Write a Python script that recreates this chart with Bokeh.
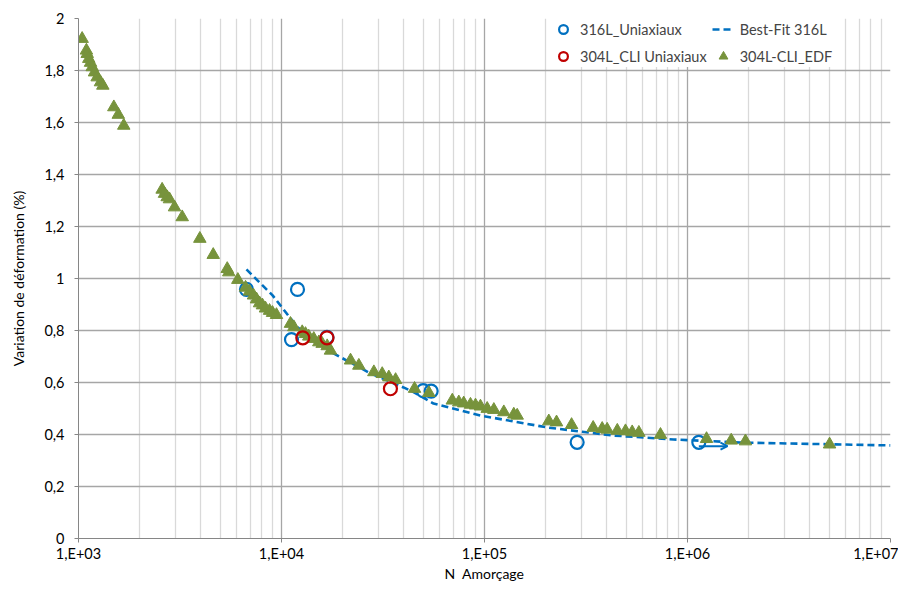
import numpy as np
from bokeh.plotting import figure
from bokeh.models import (Range1d, FixedTicker, Legend, LegendItem, Arrow, OpenHead,
                          ColumnDataSource, CustomJSTickFormatter)
from bokeh.embed import file_html
from bokeh.resources import INLINE

# ---------------- data ----------------
edf_n = [1042, 1094, 1104, 1124, 1146, 1168, 1199, 1236, 1283, 1318,
         1493, 1570, 1671,
         2582, 2653, 2735, 2806, 2972, 3243, 3960, 4610, 5404, 5500, 6094,
         6651, 6955, 7278, 7530, 7796, 8054, 8337, 8730, 9030, 9445,
         11070, 11500, 12650, 13130, 13620, 14420, 15270, 15860, 16790, 17430,
         21880, 24040, 28510, 31340, 33780, 36480, 45220, 53200,
         69400, 74700, 79000, 85300, 90300, 95500, 103100, 111200, 124500, 139400, 144900,
         207400, 226400, 268500, 343000, 380000, 402000, 451000, 495000, 534000, 576000,
         736000, 1241000, 1642000, 1930000, 5010000]
edf_eps = [1.922, 1.877, 1.864, 1.845, 1.830, 1.813, 1.793, 1.774, 1.755, 1.742,
           1.659, 1.630, 1.588,
           1.342, 1.326, 1.313, 1.305, 1.274, 1.236, 1.153, 1.091, 1.037, 1.024, 0.995,
           0.965, 0.950, 0.935, 0.920, 0.905, 0.897, 0.885, 0.876, 0.868, 0.860,
           0.826, 0.813, 0.794, 0.787, 0.777, 0.768, 0.755, 0.749, 0.740, 0.723,
           0.685, 0.665, 0.640, 0.633, 0.620, 0.610, 0.576, 0.560,
           0.531, 0.524, 0.520, 0.515, 0.512, 0.508, 0.499, 0.495, 0.486, 0.477, 0.473,
           0.451, 0.447, 0.437, 0.426, 0.422, 0.419, 0.415, 0.413, 0.409, 0.407,
           0.399, 0.383, 0.377, 0.374, 0.362]

u316_n = [6720, 11990, 11200, 16750, 49900, 54600, 286000, 1137000]
u316_eps = [0.958, 0.958, 0.765, 0.774, 0.569, 0.567, 0.370, 0.370]

u304_n = [12730, 16750, 34400]
u304_eps = [0.772, 0.772, 0.576]

fit_n = [6720, 9040, 12000, 18040, 27430, 39900, 44700, 56100, 95500,
         204000, 432000, 853000, 1820000, 10000000]
fit_eps = [1.035, 0.935, 0.812, 0.712, 0.635, 0.581, 0.563, 0.519, 0.473,
           0.427, 0.396, 0.381, 0.369, 0.358]

# run-out (non-failed) specimen arrow
runout_n_start = [1137000]
runout_n_end = [1574000]
runout_eps = [0.355]

x_major = [1e3, 1e4, 1e5, 1e6, 1e7]
y_major = [0, 0.2, 0.4, 0.6, 0.8, 1.0, 1.2, 1.4, 1.6, 1.8, 2.0]

BLUE = "#0070C0"
RED = "#C00000"
GREEN = "#77933C"
FONT = "Lato"

# ---------------- figure ----------------
p = figure(width=898, height=584, x_axis_type="log",
           x_range=Range1d(1e3, 1e7), y_range=Range1d(0, 2),
           output_backend="svg", toolbar_location=None,
           min_border_left=78, min_border_right=8,
           min_border_top=18, min_border_bottom=46)
p.outline_line_color = None
p.background_fill_color = "white"
p.border_fill_color = "white"

x_minor = [k * d for d in [1e3, 1e4, 1e5, 1e6] for k in range(2, 10)]
p.xaxis.ticker = FixedTicker(ticks=x_major, minor_ticks=x_minor)
p.yaxis.ticker = FixedTicker(ticks=y_major)
p.xaxis.formatter = CustomJSTickFormatter(
    code="return '1,E+0' + Math.round(Math.log10(tick));")
p.yaxis.formatter = CustomJSTickFormatter(
    code="var s = (Math.round(tick*10)/10).toString(); return s.replace('.', ',');")

for ax in (p.xaxis, p.yaxis):
    ax.axis_line_color = "#868686"
    ax.major_tick_line_color = "#868686"
    ax.major_tick_out = 4
    ax.major_tick_in = 0
    ax.minor_tick_line_color = None
    ax.major_label_text_font = FONT
    ax.major_label_text_font_size = "14.5px"
    ax.major_label_text_color = "#000000"
    ax.axis_label_text_font = FONT
    ax.axis_label_text_font_size = "14px"
    ax.axis_label_text_font_style = "normal"
    ax.axis_label_text_color = "#000000"

p.xaxis.axis_label = "N\u00a0 Amorçage"
p.yaxis.axis_label = "Variation de déformation (%)"
p.xaxis.major_label_standoff = 2
p.xaxis.axis_label_standoff = 0
p.yaxis.major_label_standoff = 10
p.yaxis.axis_label_standoff = 14

p.xgrid.grid_line_color = "#A6A6A6"
p.xgrid.minor_grid_line_color = "#D9D9D9"
p.xgrid.grid_line_width = 1.3
p.xgrid.minor_grid_line_width = 1.3
p.ygrid.grid_line_color = "#A6A6A6"
p.ygrid.grid_line_width = 1.3

# ---------------- series ----------------
r316 = p.scatter(u316_n, u316_eps, marker="circle", size=13, fill_color=None,
                 line_color=BLUE, line_width=2.2)
rfit = p.line(fit_n, fit_eps, line_color=BLUE, line_width=2.6, line_dash="7 4")
redf = p.scatter(edf_n, edf_eps, marker="triangle", size=12.5, fill_color=GREEN,
                 line_color=GREEN, line_width=1)
r304 = p.scatter(u304_n, u304_eps, marker="circle", size=13, fill_color=None,
                 line_color=RED, line_width=2.2)

arrow_src = ColumnDataSource(dict(x0=runout_n_start, x1=runout_n_end, y=runout_eps))
p.add_layout(Arrow(end=OpenHead(size=7, line_color=BLUE, line_width=2),
                   x_start="x0", y_start="y", x_end="x1", y_end="y",
                   line_color=BLUE, line_width=2, source=arrow_src))

# column-major filling: column 1 = 316L / 304L, column 2 = Best-Fit / EDF
legend = Legend(items=[
    LegendItem(label="316L_Uniaxiaux", renderers=[r316]),
    LegendItem(label="304L_CLI Uniaxiaux", renderers=[r304]),
    LegendItem(label="Best-Fit 316L", renderers=[rfit]),
    LegendItem(label="304L-CLI_EDF", renderers=[redf]),
], ncols=2, location=(474, 471))
legend.label_text_font = FONT
legend.label_text_font_size = "14.5px"
legend.background_fill_color = "white"
legend.background_fill_alpha = 1
legend.border_line_color = None
legend.spacing = 5
legend.padding = 1
legend.glyph_width = 22
legend.label_standoff = 6
legend.label_height = 22
legend.glyph_height = 22
p.add_layout(legend)

open("out.html", "w").write(file_html(p, INLINE))
